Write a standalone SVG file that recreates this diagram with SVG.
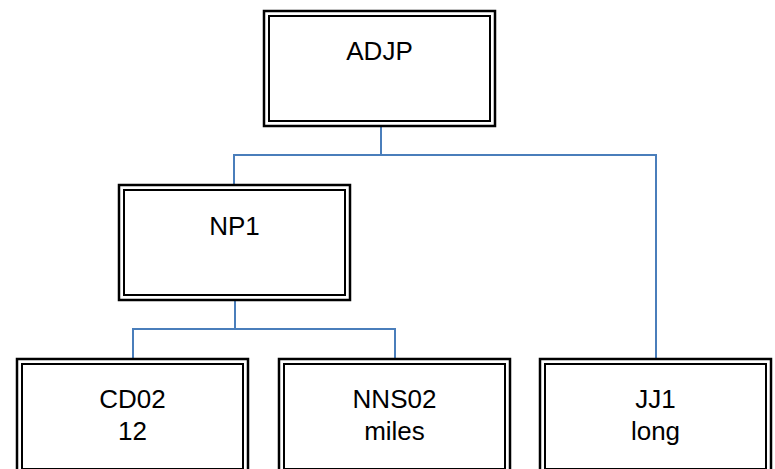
<svg xmlns="http://www.w3.org/2000/svg" width="775" height="469" viewBox="0 0 775 469">
  <style>
    .outer { fill: #ffffff; stroke: #000000; stroke-width: 2.5; }
    .inner { fill: none; stroke: #000000; stroke-width: 2; }
    .label { font-family: "Liberation Sans", Arial, sans-serif; font-size: 26px; fill: #000000; text-anchor: middle; }
    .edge { fill: none; stroke: #4a7ebb; stroke-width: 2; }
  </style>
  <rect width="775" height="469" fill="#ffffff"/>

  <!-- tree connectors -->
  <g id="connectors">
    <path class="edge" d="M381,127 V155"/>
    <path class="edge" d="M234,185 V155 H656 V359"/>
    <path class="edge" d="M235,300 V329"/>
    <path class="edge" d="M133,359 V329 H395 V359"/>
  </g>

  <g id="node-adjp">
    <rect class="outer" x="264" y="11" width="231" height="115"/>
    <rect class="inner" x="269" y="16" width="221" height="105"/>
    <text class="label" x="379.5" y="60">ADJP</text>
  </g>

  <g id="node-np1">
    <rect class="outer" x="119" y="185" width="231" height="115"/>
    <rect class="inner" x="124" y="190" width="221" height="105"/>
    <text class="label" x="234.5" y="235">NP1</text>
  </g>

  <g id="node-cd02">
    <rect class="outer" x="17" y="359" width="231" height="115"/>
    <rect class="inner" x="22" y="364" width="221" height="105"/>
    <text class="label" x="132.5" y="408">CD02</text>
    <text class="label" x="132.5" y="440">12</text>
  </g>

  <g id="node-nns02">
    <rect class="outer" x="279" y="359" width="231" height="115"/>
    <rect class="inner" x="284" y="364" width="221" height="105"/>
    <text class="label" x="394.5" y="408">NNS02</text>
    <text class="label" x="394.5" y="440">miles</text>
  </g>

  <g id="node-jj1">
    <rect class="outer" x="540" y="359" width="231" height="115"/>
    <rect class="inner" x="545" y="364" width="221" height="105"/>
    <text class="label" x="655.5" y="408">JJ1</text>
    <text class="label" x="655.5" y="440">long</text>
  </g>
</svg>
